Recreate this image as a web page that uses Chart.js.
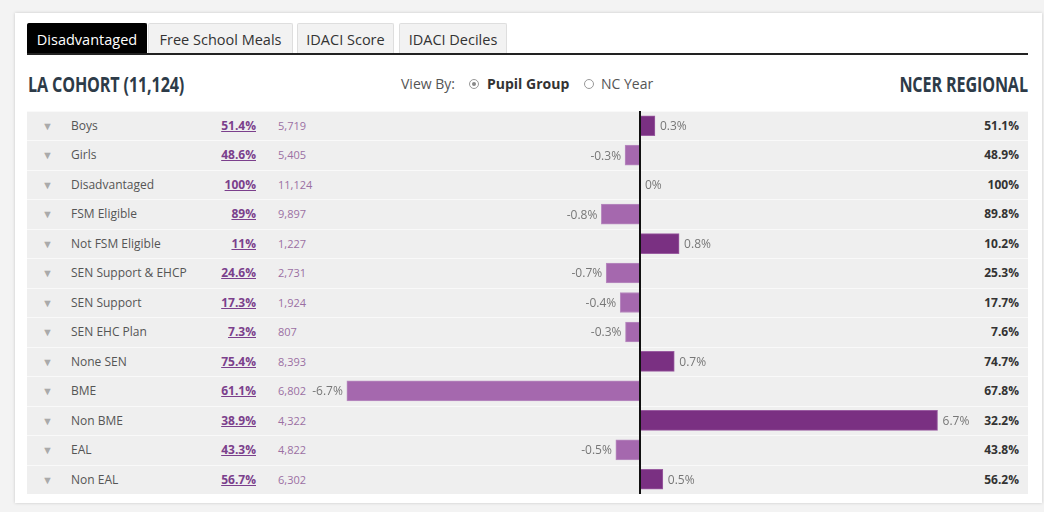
<!DOCTYPE html>
<html>
<head>
<meta charset="utf-8">
<script src="https://cdn.jsdelivr.net/npm/chart.js@4"></script>
<style>
  body { margin: 0; background: #f3f3f3; font-family: "Open Sans", sans-serif; width: 1044px; height: 512px; overflow: hidden; position: relative; }
  .card { position: absolute; left: 15px; top: 13px; width: 1027px; height: 490px; background: #fff; box-shadow: 0 0 3px rgba(0,0,0,0.18); }
  .abs { position: absolute; white-space: nowrap; }
  .tab { position: absolute; top: 23px; height: 31px; line-height: 31px; text-align: center; font-size: 14.5px; color: #333; background: #f2f2f2; border: 1px solid #dedede; border-bottom: none; box-sizing: border-box; border-radius: 2px 2px 0 0; }
  .tab.active { background: #000; color: #fff; border-color: #000; }
  .tabline { position: absolute; left: 27px; top: 53px; width: 1001px; height: 2px; background: #222; }
  .heading { font-family: "Open Sans", sans-serif; font-weight: bold; font-size: 21px; color: #2d3b48; top: 70px; transform: scaleX(0.77); letter-spacing: -0.2px; }
  .viewby { top: 74px; font-size: 14px; color: #555; }
  .radio { position: absolute; top: 79px; width: 8px; height: 8px; border: 1px solid #999; border-radius: 50%; box-sizing: content-box; }
  .radio.on::after { content: ""; position: absolute; left: 2px; top: 2px; width: 4px; height: 4px; border-radius: 50%; background: #888; }
  .row { position: absolute; left: 27px; width: 1001px; background: #efefef; border-top: 1px solid #f9f9f9; box-sizing: border-box; }
  .cell { position: absolute; top: 0; white-space: nowrap; }
  .tri { left: 15px; font-size: 11px; color: #aaa; }
  .lbl { left: 44px; font-size: 12px; color: #555; }
  .pct { right: 772px; font-size: 12px; font-weight: bold; color: #7b3f8c; text-decoration: underline; }
  .cnt { left: 251px; font-size: 11px; color: #9b6fa3; }
  .reg { right: 9px; font-size: 12px; font-weight: bold; color: #333; }
  #chartBox { position: absolute; left: 306px; top: 111px; width: 668px; height: 383px; }
</style>
</head>
<body>
<div class="card"></div>

<div class="tab active" style="left:27px;width:120px;">Disadvantaged</div>
<div class="tab" style="left:148px;width:145px;">Free School Meals</div>
<div class="tab" style="left:297px;width:97px;">IDACI Score</div>
<div class="tab" style="left:399px;width:108px;">IDACI Deciles</div>
<div class="tabline"></div>

<div class="abs heading" style="left:28px;transform-origin:left center;">LA COHORT (11,124)</div>
<div class="abs viewby" style="left:401px;">View By:</div>
<div class="radio on" style="left:469px;"></div>
<div class="abs viewby" style="left:487px;font-weight:bold;color:#333;">Pupil Group</div>
<div class="radio" style="left:584px;"></div>
<div class="abs viewby" style="left:601px;">NC Year</div>
<div class="abs heading" style="right:16px;transform-origin:right center;">NCER REGIONAL</div>

<div id="rows"></div>
<div id="chartBox"><canvas id="diffChart"></canvas></div>

<script>
// pupil groups
const groups = ["Boys", "Girls", "Disadvantaged", "FSM Eligible", "Not FSM Eligible", "SEN Support & EHCP",
  "SEN Support", "SEN EHC Plan", "None SEN", "BME", "Non BME", "EAL", "Non EAL"];
const laPercent = ["51.4%", "48.6%", "100%", "89%", "11%", "24.6%", "17.3%", "7.3%", "75.4%", "61.1%", "38.9%", "43.3%", "56.7%"];
const laCount = ["5,719", "5,405", "11,124", "9,897", "1,227", "2,731", "1,924", "807", "8,393", "6,802", "4,322", "4,822", "6,302"];
const regional = ["51.1%", "48.9%", "100%", "89.8%", "10.2%", "25.3%", "17.7%", "7.6%", "74.7%", "67.8%", "32.2%", "43.8%", "56.2%"];
// difference vs regional (bar lengths) and the labels shown
const diff = [0.34, -0.34, 0, -0.88, 0.89, -0.77, -0.45, -0.33, 0.78, -6.67, 6.77, -0.55, 0.52];
const diffLabels = ["0.3%", "-0.3%", "0%", "-0.8%", "0.8%", "-0.7%", "-0.4%", "-0.3%", "0.7%", "-6.7%", "6.7%", "-0.5%", "0.5%"];
const axisMin = -7.6, axisMax = 7.6;

// Build table rows
const rowTop = 111, rowH = 383 / groups.length;
const rowsEl = document.getElementById("rows");
groups.forEach((g, i) => {
  const row = document.createElement("div");
  row.className = "row";
  row.style.top = (rowTop + i * rowH) + "px";
  row.style.height = rowH + "px";
  const lh = (rowH - 1) + "px";
  const cells = [["tri", "▼"], ["lbl", g], ["pct", laPercent[i]], ["cnt", laCount[i]], ["reg", regional[i]]];
  cells.forEach(c => {
    const d = document.createElement("div");
    d.className = "cell " + c[0];
    d.style.lineHeight = lh;
    d.innerText = c[1];
    row.appendChild(d);
  });
  rowsEl.appendChild(row);
});

// zero line + value labels
const extras = {
  id: "extras",
  afterDatasetsDraw(chart) {
    const ctx = chart.ctx;
    const x = chart.scales.x, y = chart.scales.y;
    const x0 = x.getPixelForValue(0);
    ctx.save();
    ctx.font = "12px 'Open Sans'";
    ctx.fillStyle = "#777";
    ctx.textBaseline = "middle";
    diff.forEach((v, i) => {
      const yy = y.getPixelForValue(i) + 1;
      const xe = x.getPixelForValue(v);
      if (v < 0) {
        ctx.textAlign = "right";
        ctx.fillText(diffLabels[i], xe - 4, yy);
      } else {
        ctx.textAlign = "left";
        ctx.fillText(diffLabels[i], xe + 5, yy);
      }
    });
    ctx.strokeStyle = "#111";
    ctx.lineWidth = 2;
    ctx.beginPath();
    ctx.moveTo(x0, chart.chartArea.top);
    ctx.lineTo(x0, chart.chartArea.bottom);
    ctx.stroke();
    ctx.restore();
  }
};

new Chart(document.getElementById("diffChart"), {
  type: "bar",
  data: {
    labels: groups,
    datasets: [{
      data: diff,
      backgroundColor: diff.map(v => v < 0 ? "#a568ae" : "#7a3082"),
      borderColor: diff.map(v => v < 0 ? "#b98cc0" : "#9a5ca1"),
      borderWidth: 1,
      borderSkipped: "start",
      barThickness: 20
    }]
  },
  options: {
    indexAxis: "y",
    responsive: true,
    maintainAspectRatio: false,
    animation: false,
    layout: { padding: 0 },
    plugins: { legend: { display: false }, tooltip: { enabled: false } },
    scales: {
      x: { display: false, min: axisMin, max: axisMax },
      y: { display: false }
    }
  },
  plugins: [extras]
});
</script>
</body>
</html>
